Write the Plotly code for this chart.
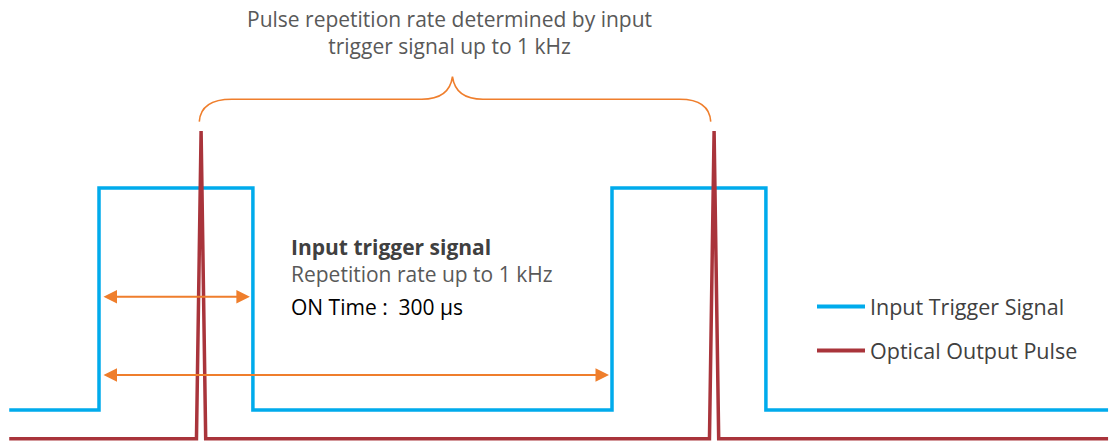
import plotly.graph_objects as go

# ---- data (time in µs, levels in arbitrary units) ----
trigger_t = [-175, 0, 300, 1000, 1300, 1967]
trigger_level = [0, 1, 0, 1, 0, 0]

pulse_t = [-175, 190, 199, 208, 1190, 1199, 1208, 1967]
pulse_level = [-0.13, -0.13, 1.257, -0.13, -0.13, 1.257, -0.13, -0.13]

on_time_arrow = [0, 300]      # µs
period_arrow = [0, 1000]      # µs
arrow_levels = [0.51, 0.158]

brace_t = [195.5, 259, 629, 689, 748.5, 1132, 1192.5]
brace_v = [1.299, 1.3995, 1.5014]

series_names = ["Input Trigger Signal", "Optical Output Pulse"]
title_lines = ["Pulse repetition rate determined by input", "trigger signal up to 1 kHz"]
info_lines = ["Input trigger signal", "Repetition rate up to 1 kHz", "ON Time :\u00a0 300 µs"]

BLUE = "#00ABEC"
RED = "#A9343B"
ORANGE = "#EF7E2C"
FONT = "Open Sans"
W, H = 1110, 441

fig = go.Figure()
fig.add_trace(go.Scatter(x=trigger_t, y=trigger_level, mode="lines", line_shape="hv",
                         line=dict(color=BLUE, width=3.5), name=series_names[0],
                         showlegend=False, hoverinfo="skip"))
fig.add_trace(go.Scatter(x=pulse_t, y=pulse_level, mode="lines",
                         line=dict(color=RED, width=3.5), name=series_names[1],
                         showlegend=False, hoverinfo="skip"))

# double-headed arrows
for (t0, t1), lv in zip([on_time_arrow, period_arrow], arrow_levels):
    fig.add_annotation(x=t1, y=lv, ax=t0, ay=lv, xref="x", yref="y", axref="x", ayref="y",
                       text="", showarrow=True, arrowside="end+start", arrowhead=2,
                       arrowsize=1.35, arrowwidth=2, arrowcolor=ORANGE,
                       standoff=3, startstandoff=3)

# curly brace
b = brace_t
lo, mid, top = brace_v
path = (f"M {b[0]},{lo} Q {b[0]+3},{mid} {b[1]},{mid} L {b[2]},{mid} "
        f"Q {b[3]-6},{mid} {b[3]},{top} Q {b[3]+6},{mid} {b[4]},{mid} "
        f"L {b[5]},{mid} Q {b[6]-3},{mid} {b[6]},{lo}")
fig.add_shape(type="path", path=path, xref="x", yref="y",
              line=dict(color=ORANGE, width=1.6))

def px(x):
    return x / W

def py(y):
    return 1 - y / H

# title text
fig.add_annotation(x=px(449), y=py(33), xref="paper", yref="paper", showarrow=False,
                   text="<br>".join(title_lines), align="center",
                   xanchor="center", yanchor="middle",
                   font=dict(family=FONT, size=21, color="#595959"))

# info block
info_y = [247, 274, 307]
info_style = [dict(color="#404040", weight="bold"), dict(color="#595959"), dict(color="#000000")]
for txt, yy, st in zip(info_lines, info_y, info_style):
    fig.add_annotation(x=px(289), y=py(yy), xref="paper", yref="paper", showarrow=False,
                       text=txt, xanchor="left", yanchor="middle",
                       font=dict(family=FONT, size=21, **st))

# legend (custom)
for name, col, yy in zip(series_names, [BLUE, RED], [306.5, 350.5]):
    fig.add_shape(type="line", xref="paper", yref="paper", x0=px(817), x1=px(865),
                  y0=py(yy), y1=py(yy), line=dict(color=col, width=4))
    fig.add_annotation(x=px(868), y=py(yy), xref="paper", yref="paper", showarrow=False,
                       text=name, xanchor="left", yanchor="middle",
                       font=dict(family=FONT, size=21.5, color="#404040"))

fig.update_layout(
    width=W, height=H, margin=dict(l=0, r=0, t=0, b=0),
    paper_bgcolor="white", plot_bgcolor="white",
    xaxis=dict(range=[-99 / 0.513, (W - 99) / 0.513], visible=False, fixedrange=True),
    yaxis=dict(range=[-31 / 222, 410 / 222], visible=False, fixedrange=True),
)
fig.write_html("out.html", config={"displayModeBar": False},
               post_script="document.body.style.margin='0';document.body.style.overflow='hidden';")
